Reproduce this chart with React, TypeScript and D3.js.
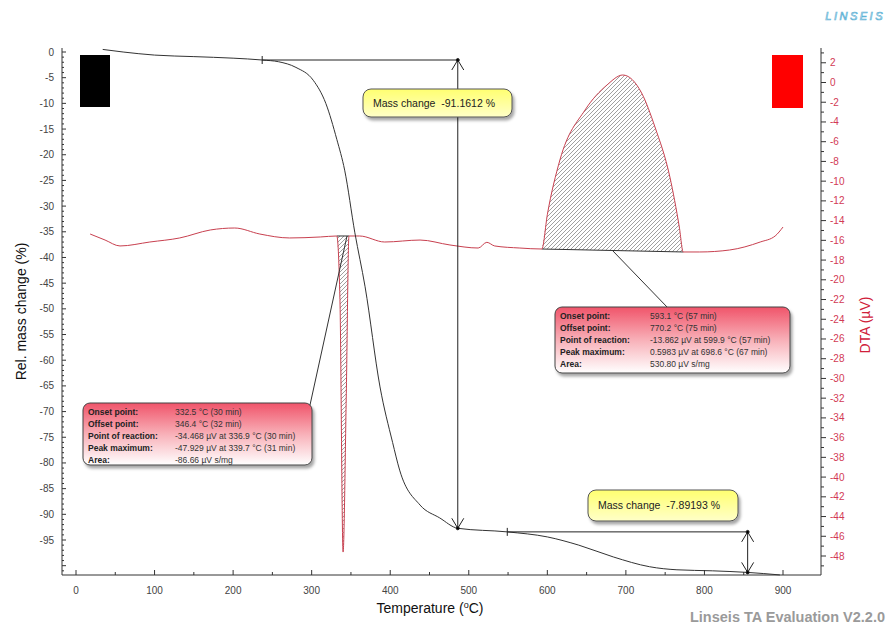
import React from "react";
import * as d3 from "d3";

// mass (TG) curve, temperature in °C, value in %
const massTemp = [34, 60, 100, 150, 200, 237, 258, 280, 302, 318, 332, 342, 355, 368, 387, 403, 412, 438, 463, 486, 549, 600, 640, 684, 730, 765, 810, 855, 896];
const massValue = [0.5, 0, -0.6, -0.9, -1.2, -1.56, -1.9, -3, -5.5, -10, -17, -23, -35.2, -45.7, -65.2, -76, -81.4, -88.2, -90.7, -92.72, -93.42, -94.4, -96, -98.3, -100.2, -100.8, -101.0, -101.31, -101.8];

// DTA curve, value in µV
const dtaTemp = [18, 37, 56, 94, 132, 171, 202, 234, 272, 311, 332, 336, 340, 344, 347.5, 361, 393, 438, 476, 512, 523, 533, 565, 593, 600, 616, 648, 676, 696, 720, 737, 756, 768, 773, 794, 832, 871, 890, 900];
const dtaValue = [-15.36, -15.97, -16.57, -16.17, -15.76, -14.95, -14.75, -15.36, -15.76, -15.66, -15.56, -22, -47.6, -32, -15.56, -15.56, -16.17, -15.97, -16.47, -16.78, -16.2, -16.57, -16.78, -16.88, -13.4, -7.86, -2.79, -0.25, 0.76, -1.06, -4.51, -9.58, -14.65, -17.18, -17.18, -16.98, -16.17, -15.56, -14.65];

const xTicks = [0, 100, 200, 300, 400, 500, 600, 700, 800, 900];
const leftTicks = d3.range(0, -96, -5);
const rightTicks = d3.range(2, -49, -2);

// evaluated peaks [onset, offset]
const peak1 = [332, 347.5];
const peak2 = [593, 773];

// mass change steps: [startTemp, arrowTemp, from, to]
const step1 = [237, 486, -1.56, -92.72];
const step2 = [549, 855, -93.42, -101.31];
const stepLabels = ["Mass change\u00a0\u00a0-91.1612 %", "Mass change\u00a0\u00a0-7.89193 %"];

const infoLabels = ["Onset point:", "Offset point:", "Point of reaction:", "Peak maximum:", "Area:"];
const info1Values = ["332.5 °C (30 min)", "346.4 °C (32 min)", "-34.468 µV at 336.9 °C (30 min)", "-47.929 µV at 339.7 °C (31 min)", "-86.66 µV s/mg"];
const info2Values = ["593.1 °C (57 min)", "770.2 °C (75 min)", "-13.862 µV at 599.9 °C (57 min)", "0.5983 µV at 698.6 °C (67 min)", "530.80 µV s/mg"];

const W = 890, H = 632;
const L = 62, R = 821, T = 48, B = 575;
const font = "'Liberation Sans', Arial, sans-serif";

const App = () => {
  const x = d3.scaleLinear().domain([0, 900]).range([76, 783]);
  const yL = d3.scaleLinear().domain([0, -95]).range([52, 540]);
  const yR = d3.scaleLinear().domain([0, -48]).range([82.5, 556]);

  const massPts = massTemp.map((t, i) => [t, massValue[i]] as [number, number]);
  const dtaPts = dtaTemp.map((t, i) => [t, dtaValue[i]] as [number, number]);

  const massLine = d3.line<[number, number]>().x(d => x(d[0])).y(d => yL(d[1])).curve(d3.curveMonotoneX);
  const dtaLine = d3.line<[number, number]>().x(d => x(d[0])).y(d => yR(d[1])).curve(d3.curveMonotoneX);

  const sub = (p: number[]) => dtaPts.filter(d => d[0] >= p[0] && d[0] <= p[1]);
  const p1 = sub(peak1), p2 = sub(peak2);

  const leftMinor = d3.range(0, -102, -1);
  const rightMinor = d3.range(3, -50, -1);
  const xMinor = d3.range(0, 950, 50);

  const arrow = (px: number, py: number, dir: number) =>
    `M${px - 6},${py + dir * 10}L${px},${py}L${px + 6},${py + dir * 10}`;

  const stepMarks = (s: number[]) => {
    const xs = x(s[0]), xa = x(s[1]), y0 = yL(s[2]), y1 = yL(s[3]);
    return (
      <g stroke="#222" fill="none" strokeWidth={1}>
        <line x1={xs} x2={xa} y1={y0} y2={y0} />
        <line x1={xs} x2={xs} y1={y0 - 4} y2={y0 + 4} />
        <line x1={xa} x2={xa} y1={y0} y2={y1} />
        <path d={arrow(xa, y0, 1)} />
        <path d={arrow(xa, y1, -1)} />
        <circle cx={xa} cy={y0} r={1.5} fill="#000" />
        <circle cx={xa} cy={y1} r={1.5} fill="#000" />
      </g>
    );
  };

  const yellowBox = (bx: number, by: number, w: number, h: number, label: string) => (
    <g>
      <rect x={bx} y={by} width={w} height={h} rx={8} fill="url(#yel)" stroke="#555" strokeWidth={1} filter="url(#shadow)" />
      <text x={bx + 10} y={by + h / 2 + 3.5} fontSize={10.5} fontFamily={font} fill="#222">{label}</text>
    </g>
  );

  const infoBox = (bx: number, by: number, w: number, h: number, vx: number, values: string[]) => (
    <g>
      <rect x={bx} y={by} width={w} height={h} rx={7} fill="url(#pink)" stroke="#444" strokeWidth={1} filter="url(#shadow)" />
      {infoLabels.map((l, i) => (
        <text key={l} x={bx + 5} y={by + 12 + i * 12} fontSize={8.5} fontWeight="bold" fontFamily={font} fill="#222">{l}</text>
      ))}
      {values.map((v, i) => (
        <text key={i} x={vx} y={by + 12 + i * 12} fontSize={8.5} fontFamily={font} fill="#333">{v}</text>
      ))}
    </g>
  );

  return (
    <svg width={W} height={H} style={{ position: "absolute", left: 0, top: 0, background: "#fff" }}>
      <defs>
        <pattern id="hatch" patternUnits="userSpaceOnUse" width={4} height={4}>
          <path d="M-1,1 l2,-2 M0,4 l4,-4 M3,5 l2,-2" stroke="#777" strokeWidth={0.7} />
        </pattern>
        <linearGradient id="yel" x1="0" y1="0" x2="0" y2="1">
          <stop offset="0" stopColor="#ffff70" />
          <stop offset="1" stopColor="#ffffc8" />
        </linearGradient>
        <linearGradient id="pink" x1="0" y1="0" x2="0" y2="1">
          <stop offset="0" stopColor="#f0546a" />
          <stop offset="0.5" stopColor="#f8b0b8" />
          <stop offset="1" stopColor="#ffffff" />
        </linearGradient>
        <filter id="shadow" x="-10%" y="-10%" width="125%" height="140%">
          <feDropShadow dx={2} dy={3} stdDeviation={1.5} floodColor="#000" floodOpacity={0.35} />
        </filter>
      </defs>

      {/* logo */}
      <text x={885} y={20} textAnchor="end" fontSize={11} fontStyle="italic" letterSpacing={2.5} fontFamily={font} fill="#fff" stroke="#5fb3d6" strokeWidth={0.7}>LINSEIS</text>

      {/* legend boxes */}
      <rect x={80} y={55} width={30} height={52} fill="#000" />
      <rect x={772} y={55} width={31} height={53} fill="#ff0000" />

      {/* axes */}
      <g stroke="#333" strokeWidth={1} fill="none">
        <line x1={L} x2={L} y1={T} y2={B} />
        <line x1={R} x2={R} y1={T} y2={B} />
        <line x1={L} x2={R} y1={B} y2={B} />
        {leftMinor.map(v => <line key={"lm" + v} x1={L} x2={L + (v % 5 === 0 ? 4 : 2)} y1={yL(v)} y2={yL(v)} />)}
        {rightMinor.map(v => <line key={"rm" + v} x1={R} x2={R + (v % 2 === 0 ? 5 : 3)} y1={yR(v)} y2={yR(v)} />)}
        {xMinor.map(v => <line key={"xm" + v} x1={x(v)} x2={x(v)} y1={B} y2={B - (v % 100 === 0 ? 5 : 3)} />)}
      </g>
      {leftTicks.map(v => (
        <text key={"lt" + v} x={L - 8} y={yL(v) + 3.5} textAnchor="end" fontSize={10} fontFamily={font} fill="#444">{v}</text>
      ))}
      {rightTicks.map(v => (
        <text key={"rt" + v} x={R + 9} y={yR(v) + 3.5} fontSize={10} fontFamily={font} fill="#d23a55">{v}</text>
      ))}
      {xTicks.map(v => (
        <text key={"xt" + v} x={x(v)} y={B + 19} textAnchor="middle" fontSize={10} fontFamily={font} fill="#444">{v}</text>
      ))}

      <text transform={`translate(26,${(T + B) / 2}) rotate(-90)`} textAnchor="middle" fontSize={14} fontFamily={font} fill="#111">Rel. mass change (%)</text>
      <text transform={`translate(870,325) rotate(-90)`} textAnchor="middle" fontSize={14} fontFamily={font} fill="#d0203a">DTA (µV)</text>
      <text x={430} y={613} textAnchor="middle" fontSize={14} fontFamily={font} fill="#111">
        Temperature (<tspan fontSize={9} dy={-5}>o</tspan><tspan dy={5}>C)</tspan>
      </text>
      <text x={885} y={622} textAnchor="end" fontSize={14.5} fontWeight="bold" fontFamily={font} fill="#9a9a9a">Linseis TA Evaluation V2.2.0</text>

      {/* hatched peaks */}
      <path d={dtaLine(p1) + "Z"} fill="url(#hatch)" stroke="none" />
      <path d={dtaLine(p2) + "Z"} fill="url(#hatch)" stroke="none" />
      <line x1={x(p1[0][0])} y1={yR(p1[0][1])} x2={x(p1[p1.length - 1][0])} y2={yR(p1[p1.length - 1][1])} stroke="#333" />
      <line x1={x(p2[0][0])} y1={yR(p2[0][1])} x2={x(p2[p2.length - 1][0])} y2={yR(p2[p2.length - 1][1])} stroke="#333" />

      {/* curves */}
      <path d={dtaLine(dtaPts) || ""} fill="none" stroke="#c8404f" strokeWidth={1} />
      <path d={massLine(massPts) || ""} fill="none" stroke="#333" strokeWidth={1} />

      {stepMarks(step1)}
      {stepMarks(step2)}

      {/* pointer lines */}
      <line x1={310} y1={405} x2={347} y2={236} stroke="#333" />
      <line x1={668} y1={308} x2={612} y2={250} stroke="#333" />

      {yellowBox(363, 89, 149, 28, stepLabels[0])}
      {yellowBox(588, 490, 150, 31, stepLabels[1])}
      {infoBox(83, 403, 229, 62, 175, info1Values)}
      {infoBox(555, 307, 235, 66, 650, info2Values)}
    </svg>
  );
};

export default App;
